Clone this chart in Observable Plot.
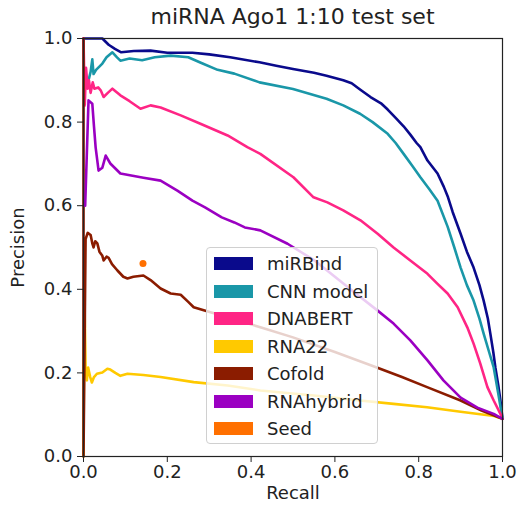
<!DOCTYPE html>
<html>
<head>
<meta charset="utf-8">
<script src="https://cdn.jsdelivr.net/npm/d3@7"></script>
<script src="https://cdn.jsdelivr.net/npm/@observablehq/plot@0.6"></script>
<style>
  html, body { margin: 0; padding: 0; background: #fff; }
  #wrap { position: relative; width: 519px; height: 512px; font-family: "DejaVu Sans", sans-serif; color: #222; }
  #title { position: absolute; left: 83px; width: 419px; top: 4px; text-align: center; font-size: 22px; line-height: 26px; z-index: 2; }
  #chart { position: absolute; left: 0; top: 0; }
  #legend { position: absolute; left: 206px; top: 247px; width: 172px; height: 197px; border: 1px solid #d0d0d0; border-radius: 4px; background: rgba(255,255,255,0.8); box-sizing: border-box; }
  .row { position: absolute; left: 0; height: 20px; font-size: 18px; line-height: 20px; }
  .sw { position: absolute; left: 7px; top: 3px; width: 39px; height: 13px; }
  .lab { position: absolute; left: 60px; top: 0; white-space: nowrap; }
</style>
</head>
<body>
<div id="wrap">
  <div id="chart"></div>
  <div id="title">miRNA Ago1 1:10 test set</div>
  <div id="legend"></div>
</div>
<script>
const seriesNames = ["miRBind", "CNN model", "DNABERT", "RNA22", "Cofold", "RNAhybrid", "Seed"];
const seriesColors = ["#0a0a8c", "#1a97a8", "#ff2585", "#ffc900", "#8b1c00", "#9b00c2", "#ff7000"];
const axisTicks = [0, 0.2, 0.4, 0.6, 0.8, 1.0];

const mirbindRecall = [0,0.045,0.06,0.075,0.09,0.12,0.16,0.2,0.26,0.3,0.35,0.42,0.46,0.5,0.55,0.58,0.62,0.64,0.66,0.685,0.71,0.726,0.745,0.764,0.78,0.795,0.804,0.821,0.845,0.86,0.87,0.881,0.9,0.915,0.931,0.945,0.955,0.965,0.971,0.978,0.983,0.99,0.995,1.0];
const mirbindPrecision = [1,1,0.985,0.975,0.967,0.97,0.971,0.966,0.966,0.962,0.955,0.943,0.935,0.927,0.918,0.911,0.9,0.893,0.878,0.86,0.845,0.83,0.81,0.79,0.77,0.75,0.74,0.708,0.677,0.645,0.62,0.585,0.533,0.49,0.452,0.41,0.373,0.33,0.294,0.25,0.213,0.17,0.134,0.09];

const cnnRecall = [0.012,0.017,0.021,0.024,0.03,0.045,0.055,0.069,0.08,0.088,0.11,0.14,0.17,0.208,0.25,0.28,0.32,0.36,0.42,0.5,0.58,0.62,0.66,0.69,0.726,0.745,0.764,0.785,0.804,0.825,0.845,0.869,0.885,0.9,0.915,0.931,0.945,0.955,0.968,0.979,0.99,1.0];
const cnnPrecision = [0.9,0.92,0.95,0.915,0.925,0.94,0.955,0.967,0.955,0.947,0.952,0.948,0.955,0.959,0.955,0.942,0.925,0.916,0.895,0.879,0.856,0.84,0.82,0.8,0.772,0.75,0.724,0.695,0.668,0.64,0.612,0.55,0.5,0.452,0.41,0.373,0.33,0.294,0.25,0.213,0.15,0.09];

const dnabertRecall = [0,0.003,0.006,0.01,0.013,0.017,0.022,0.026,0.035,0.041,0.048,0.058,0.069,0.088,0.11,0.136,0.16,0.184,0.232,0.279,0.344,0.391,0.422,0.501,0.549,0.582,0.62,0.661,0.702,0.74,0.78,0.821,0.845,0.869,0.893,0.916,0.931,0.947,0.964,0.979,0.995,1.0];
const dnabertPrecision = [1.0,0.84,0.93,0.88,0.9,0.87,0.895,0.88,0.883,0.876,0.86,0.87,0.88,0.864,0.85,0.832,0.84,0.835,0.816,0.796,0.768,0.74,0.724,0.668,0.62,0.608,0.589,0.565,0.533,0.5,0.469,0.437,0.413,0.39,0.357,0.309,0.27,0.222,0.166,0.134,0.102,0.09];

const rna22Recall = [0,0.002,0.005,0.008,0.011,0.016,0.02,0.025,0.032,0.045,0.057,0.064,0.076,0.088,0.105,0.143,0.184,0.263,0.344,0.422,0.55,0.66,0.74,0.82,0.9,0.98,1.0];
const rna22Precision = [0,0.4,0.21,0.182,0.213,0.19,0.177,0.19,0.198,0.201,0.21,0.208,0.2,0.193,0.198,0.195,0.19,0.178,0.17,0.158,0.146,0.134,0.126,0.118,0.107,0.097,0.09];

const cofoldRecall = [0,0,0.005,0.01,0.017,0.021,0.024,0.028,0.033,0.038,0.045,0.048,0.055,0.06,0.068,0.081,0.095,0.105,0.119,0.143,0.16,0.184,0.208,0.232,0.25,0.263,0.303,0.35,0.422,0.5,0.6,0.7,0.76,0.82,0.9,0.95,1.0];
const cofoldPrecision = [1,0,0.52,0.535,0.53,0.51,0.5,0.515,0.51,0.49,0.48,0.469,0.478,0.475,0.46,0.445,0.43,0.426,0.43,0.433,0.422,0.402,0.39,0.387,0.37,0.357,0.345,0.332,0.309,0.285,0.25,0.213,0.19,0.166,0.134,0.11,0.09];

const rnahybridRecall = [0.004,0.012,0.021,0.025,0.029,0.036,0.045,0.053,0.064,0.088,0.143,0.184,0.224,0.26,0.29,0.33,0.36,0.385,0.422,0.487,0.55,0.6,0.65,0.702,0.74,0.78,0.821,0.859,0.9,0.94,0.979,1.0];
const rnahybridPrecision = [0.6,0.852,0.844,0.79,0.739,0.684,0.691,0.72,0.701,0.677,0.667,0.66,0.636,0.612,0.596,0.572,0.56,0.548,0.541,0.509,0.47,0.43,0.39,0.349,0.318,0.278,0.23,0.182,0.141,0.117,0.102,0.09];

const seedRecall = [0.142];
const seedPrecision = [0.462];

const curves = [
  [mirbindRecall, mirbindPrecision],
  [cnnRecall, cnnPrecision],
  [dnabertRecall, dnabertPrecision],
  [rna22Recall, rna22Precision],
  [cofoldRecall, cofoldPrecision],
  [rnahybridRecall, rnahybridPrecision]
];

const lineMarks = curves.map(([r, p], i) =>
  Plot.line(r.map((x, j) => ({recall: x, precision: p[j]})), {
    x: "recall", y: "precision", stroke: seriesColors[i], strokeWidth: 2.6, curve: "linear"
  })
);

const fmt = d3.format(".1f");
const chart = Plot.plot({
  width: 519,
  height: 512,
  marginLeft: 83,
  marginRight: 17,
  marginTop: 38,
  marginBottom: 56,
  style: {fontFamily: "DejaVu Sans, sans-serif", fontSize: "18px", color: "#222", background: "#fff"},
  x: {domain: [0, 1]},
  y: {domain: [0, 1]},
  marks: [
    ...lineMarks,
    Plot.dot(seedRecall.map((x, j) => ({recall: x, precision: seedPrecision[j]})), {
      x: "recall", y: "precision", r: 3.5, fill: seriesColors[6], stroke: "none"
    }),
    Plot.frame({stroke: "#222", strokeWidth: 1.2}),
    Plot.axisX({ticks: axisTicks, tickFormat: fmt, tickSize: 6, tickPadding: 3, label: "Recall", labelAnchor: "center", labelArrow: "none", labelOffset: 42}),
    Plot.axisY({ticks: axisTicks, tickFormat: fmt, tickSize: 6, tickPadding: 5, label: "Precision", labelAnchor: "center", labelArrow: "none", labelOffset: 72})
  ]
});
document.getElementById("chart").appendChild(chart);

const legend = document.getElementById("legend");
seriesNames.forEach((name, i) => {
  const row = document.createElement("div");
  row.className = "row";
  row.style.top = (6 + i * 27.5) + "px";
  row.style.width = "100%";
  const sw = document.createElement("div");
  sw.className = "sw";
  sw.style.background = seriesColors[i];
  const lab = document.createElement("div");
  lab.className = "lab";
  lab.textContent = name;
  row.appendChild(sw);
  row.appendChild(lab);
  legend.appendChild(row);
});
</script>
</body>
</html>
